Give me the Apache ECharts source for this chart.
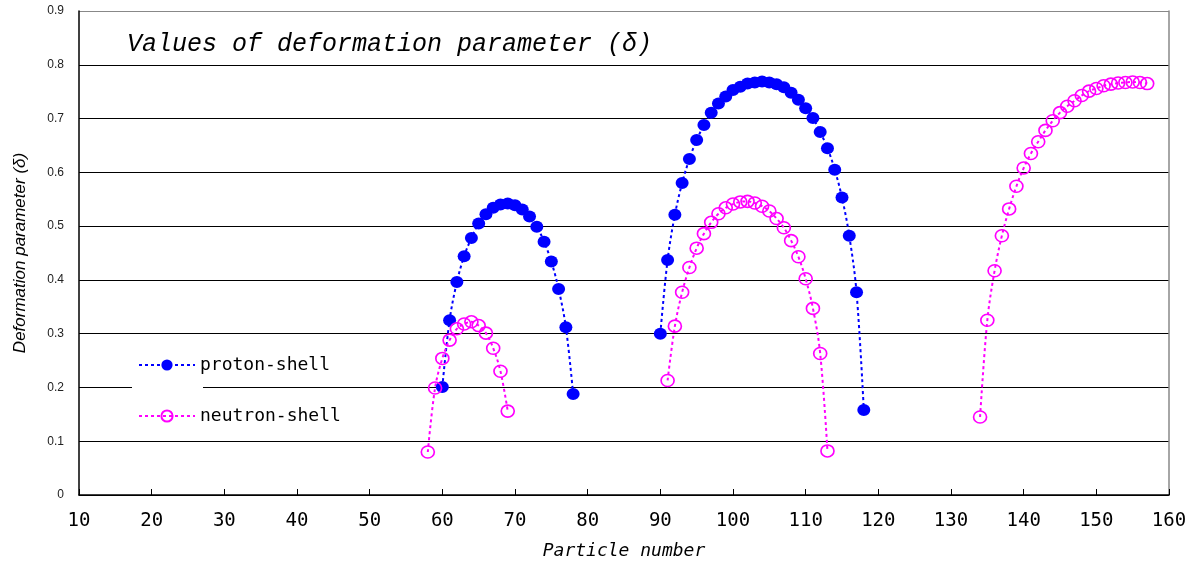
<!DOCTYPE html>
<html>
<head>
<meta charset="utf-8">
<script src="https://cdn.jsdelivr.net/npm/echarts@6/dist/echarts.min.js"></script>
<style>
html,body{margin:0;padding:0;background:#fff;}
#chart{width:1200px;height:568px;}
</style>
</head>
<body>
<div id="chart"></div>
<script>
// ---- data ----
const xTicks = [10,20,30,40,50,60,70,80,90,100,110,120,130,140,150,160];
const yTicks = [0,0.1,0.2,0.3,0.4,0.5,0.6,0.7,0.8,0.9];

const protonN1 = [60,61,62,63,64,65,66,67,68,69,70,71,72,73,74,75,76,77,78];
const protonD1 = [0.201,0.325,0.396,0.444,0.478,0.505,0.522,0.534,0.540,0.542,0.539,0.531,0.518,0.499,0.471,0.434,0.383,0.312,0.188];

const protonN2 = [90,91,92,93,94,95,96,97,98,99,100,101,102,103,104,105,106,107,108,109,110,111,112,113,114,115,116,117,118];
const protonD2 = [0.300,0.437,0.521,0.580,0.625,0.660,0.688,0.711,0.728,0.741,0.753,0.759,0.765,0.767,0.769,0.767,0.764,0.758,0.748,0.735,0.719,0.701,0.675,0.645,0.605,0.553,0.482,0.377,0.158];

const neutronN1 = [58,59,60,61,62,63,64,65,66,67,68,69];
const neutronD1 = [0.080,0.199,0.254,0.288,0.309,0.318,0.322,0.315,0.301,0.273,0.230,0.156];

const neutronN2 = [91,92,93,94,95,96,97,98,99,100,101,102,103,104,105,106,107,108,109,110,111,112,113];
const neutronD2 = [0.213,0.314,0.377,0.423,0.459,0.486,0.507,0.523,0.534,0.541,0.545,0.546,0.543,0.537,0.528,0.514,0.497,0.473,0.443,0.402,0.347,0.263,0.082];

const neutronN3 = [134,135,136,137,138,139,140,141,142,143,144,145,146,147,148,149,150,151,152,153,154,155,156,157];
const neutronD3 = [0.145,0.325,0.417,0.482,0.532,0.574,0.608,0.635,0.657,0.678,0.696,0.711,0.723,0.733,0.743,0.751,0.756,0.761,0.764,0.766,0.767,0.768,0.767,0.765];

const titleText = 'Values of deformation parameter (δ)';
const xName = 'Particle number';
const yName = 'Deformation parameter (δ)';
const protonName = 'proton-shell';
const neutronName = 'neutron-shell';

// ---- build ----
const zip = (a, b) => a.map((v, i) => [v, b[i]]);
const BLUE = '#0000ff', MAG = '#ff00ff';

function protonSeries(n, d) {
  return {
    name: protonName, type: 'line', smooth: 0.35, data: zip(n, d), z: 5,
    symbol: 'circle', symbolSize: [13, 12],
    itemStyle: { color: BLUE },
    lineStyle: { color: BLUE, width: 2, type: [3, 3] }
  };
}
function neutronSeries(n, d) {
  return {
    name: neutronName, type: 'line', smooth: 0.35, data: zip(n, d), z: 5,
    symbol: 'circle', symbolSize: [13, 12],
    itemStyle: { color: 'rgba(255,255,255,0)', borderColor: MAG, borderWidth: 1.6 },
    lineStyle: { color: MAG, width: 2, type: [3, 3] }
  };
}

const gridColors = yTicks.map((v, i) => i === yTicks.length - 1 ? '#888' : '#000');

const option = {
  backgroundColor: '#fff',
  animation: false,
  title: {
    text: titleText, left: 127, top: 32, padding: 0,
    textStyle: { fontFamily: 'Liberation Mono', fontStyle: 'italic', fontWeight: 'normal', fontSize: 25, color: '#000' }
  },
  legend: {
    data: [protonName, neutronName],
    orient: 'vertical', left: 138, top: 356, padding: 0,
    itemWidth: 56, itemHeight: 14, itemGap: 33,
    textStyle: { fontFamily: 'DejaVu Sans Mono', fontSize: 18, color: '#000' }
  },
  graphic: [{
    type: 'rect', left: 132, top: 385, z: 3,
    shape: { width: 71, height: 6 }, style: { fill: '#fff' }
  }],
  grid: { left: 79, right: 31, top: 11, bottom: 73 },
  xAxis: {
    type: 'value', min: xTicks[0], max: xTicks[xTicks.length - 1], interval: 10,
    name: xName, nameLocation: 'middle', nameGap: 47,
    nameTextStyle: { fontFamily: 'DejaVu Sans Mono', fontStyle: 'italic', fontSize: 18, color: '#000' },
    axisLine: { lineStyle: { color: '#000', width: 1.5 } },
    axisTick: { inside: true, length: 6, lineStyle: { color: '#000' } },
    axisLabel: { margin: 17, fontFamily: 'DejaVu Sans Mono', fontSize: 19, color: '#000' },
    splitLine: { show: false }
  },
  yAxis: [{
    type: 'value', min: yTicks[0], max: yTicks[yTicks.length - 1], interval: 0.1,
    name: yName, nameLocation: 'middle', nameGap: 50, nameRotate: 90,
    nameTextStyle: { fontFamily: 'Liberation Sans', fontStyle: 'italic', fontSize: 17, color: '#000' },
    axisLine: { show: true, lineStyle: { color: '#000', width: 1.5 } },
    axisTick: { show: false },
    axisLabel: { margin: 15, fontFamily: 'Liberation Sans', fontSize: 12, color: '#222',
      formatter: v => v === 0 ? '0' : v.toFixed(1) },
    splitLine: { show: true, lineStyle: { color: gridColors, width: 1.2 } }
  }, {
    type: 'value', position: 'right', min: yTicks[0], max: yTicks[yTicks.length - 1], interval: 0.1,
    axisLine: { show: true, lineStyle: { color: '#888', width: 1.5 } },
    axisTick: { show: false }, axisLabel: { show: false }, splitLine: { show: false }
  }],
  series: [
    protonSeries(protonN1, protonD1),
    protonSeries(protonN2, protonD2),
    neutronSeries(neutronN1, neutronD1),
    neutronSeries(neutronN2, neutronD2),
    neutronSeries(neutronN3, neutronD3)
  ]
};

const chart = echarts.init(document.getElementById('chart'), null, { renderer: 'canvas' });
chart.setOption(option);
</script>
</body>
</html>
